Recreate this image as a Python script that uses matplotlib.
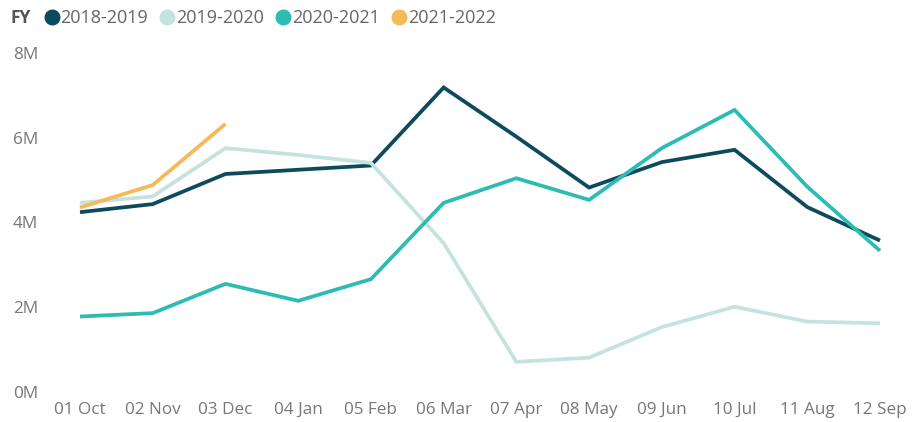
import matplotlib.pyplot as plt
from matplotlib.lines import Line2D

plt.rcParams['font.family'] = ['Open Sans', 'DejaVu Sans']

months = ['01 Oct', '02 Nov', '03 Dec', '04 Jan', '05 Feb', '06 Mar',
          '07 Apr', '08 May', '09 Jun', '10 Jul', '11 Aug', '12 Sep']
fy_2018 = [4.24, 4.43, 5.14, 5.24, 5.34, 7.18, 6.02, 4.82, 5.42, 5.71, 4.36, 3.57]
fy_2019 = [4.46, 4.61, 5.75, 5.59, 5.40, 3.51, 0.71, 0.81, 1.53, 2.01, 1.66, 1.62]
fy_2020 = [1.78, 1.86, 2.55, 2.15, 2.66, 4.46, 5.04, 4.53, 5.75, 6.65, 4.84, 3.33]
fy_2021 = [4.35, 4.88, 6.32]
yticks = [0, 2, 4, 6, 8]

series = [
    ('2018-2019', fy_2018, '#0d4a5e'),
    ('2019-2020', fy_2019, '#c4e3df'),
    ('2020-2021', fy_2020, '#2dbcb4'),
    ('2021-2022', fy_2021, '#f6b957'),
]

fig = plt.figure(figsize=(9.15, 4.22), dpi=100)
ax = fig.add_axes([60 / 915, 1 - 392 / 422, 840 / 915, (392 - 52.7) / 422])

for name, vals, col in series:
    ax.plot(range(len(vals)), vals, color=col, lw=2.7, solid_joinstyle='miter',
            solid_capstyle='butt', label=name)

ax.set_xlim(-0.275, 11.275)
ax.set_ylim(0, 8)
ax.set_xticks(range(len(months)))
ax.set_xticklabels(months)
ax.set_yticks(yticks)
ax.set_yticklabels([f'{v}M' for v in yticks])
ax.tick_params(length=0, labelsize=12.3, colors='#777777', pad=7)
ax.tick_params(axis='y', pad=34)
for lbl in ax.get_yticklabels():
    lbl.set_horizontalalignment('left')
for s in ax.spines.values():
    s.set_visible(False)

fig.text(11 / 915, 1 - 18 / 422, 'FY', fontsize=12.5, fontweight='bold',
         color='#555555', va='center')
handles = [Line2D([], [], marker='o', ls='none', ms=10.5, color=c) for _, _, c in series]
fig.legend(handles, [n for n, _, _ in series], loc='center left',
           bbox_to_anchor=(38 / 915, 1 - 18 / 422), ncol=4, frameon=False,
           handletextpad=-0.25, columnspacing=0.3, handlelength=1.5,
           fontsize=13, labelcolor='#666666', borderaxespad=0, borderpad=0)

fig.savefig('out.png', dpi=100)
